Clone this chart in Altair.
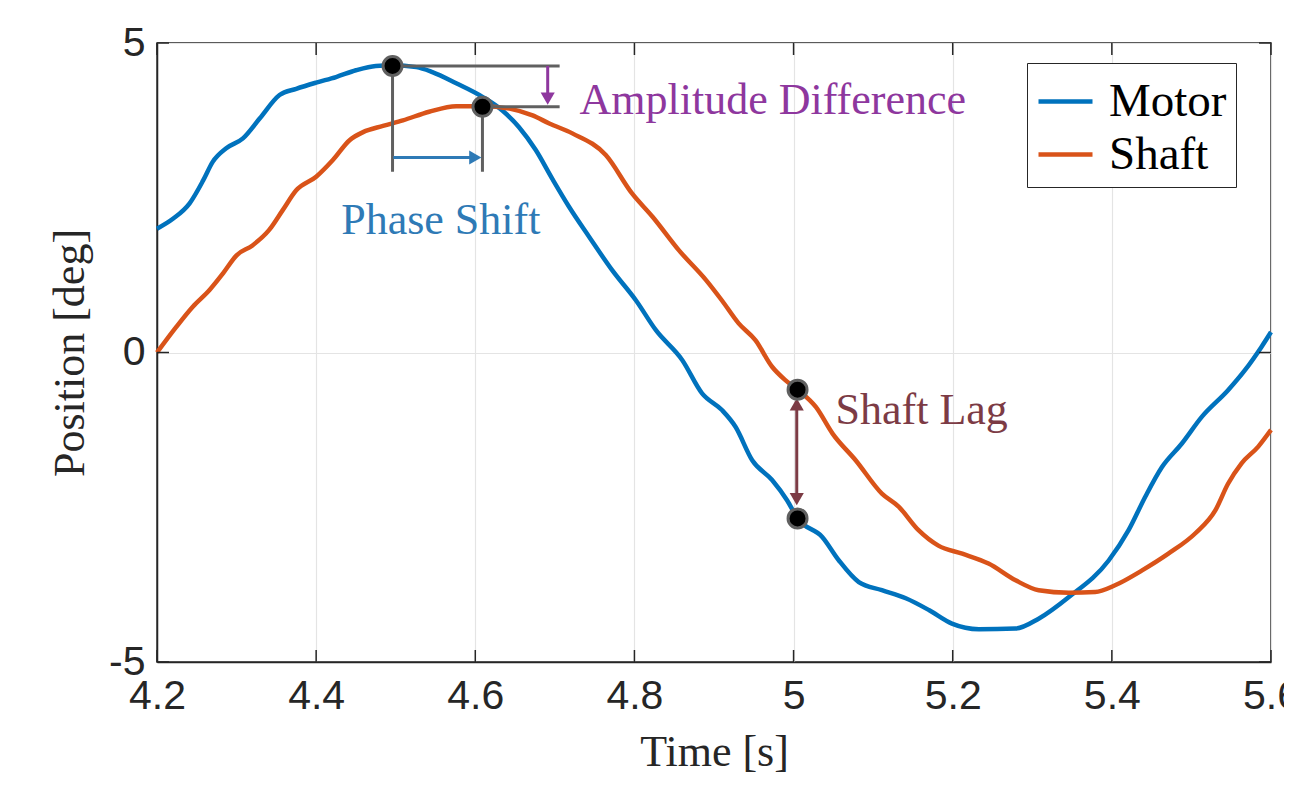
import altair as alt
import pandas as pd

# ---- series ----
motor_t = [4.200, 4.220, 4.241, 4.258, 4.270, 4.287, 4.308, 4.329, 4.354, 4.375,
           4.400, 4.425, 4.450, 4.475, 4.496, 4.526, 4.546, 4.576, 4.609, 4.634,
           4.655, 4.676, 4.697, 4.718, 4.743, 4.772, 4.802, 4.827, 4.860, 4.885,
           4.910, 4.927, 4.948, 4.973, 4.992, 5.005, 5.036, 5.057, 5.082, 5.111,
           5.141, 5.170, 5.199, 5.233, 5.279, 5.308, 5.346, 5.396, 5.421, 5.442,
           5.463, 5.488, 5.513, 5.546, 5.567, 5.588, 5.600]
motor_v = [2.00, 2.16, 2.41, 2.78, 3.08, 3.30, 3.46, 3.78, 4.16, 4.26,
           4.36, 4.45, 4.56, 4.63, 4.64, 4.61, 4.53, 4.35, 4.13, 3.91,
           3.64, 3.27, 2.80, 2.35, 1.87, 1.33, 0.84, 0.36, -0.12, -0.66,
           -0.93, -1.20, -1.74, -2.06, -2.39, -2.68, -2.98, -3.36, -3.71, -3.84,
           -3.97, -4.16, -4.38, -4.47, -4.46, -4.30, -3.95, -3.36, -2.87, -2.33,
           -1.85, -1.47, -1.04, -0.61, -0.29, 0.09, 0.33]

shaft_t = [4.200, 4.224, 4.245, 4.266, 4.283, 4.300, 4.320, 4.341, 4.358, 4.375,
           4.400, 4.421, 4.442, 4.459, 4.484, 4.509, 4.542, 4.576, 4.609, 4.643,
           4.672, 4.693, 4.722, 4.764, 4.797, 4.823, 4.856, 4.890, 4.910, 4.931,
           4.952, 4.973, 4.990, 5.005, 5.028, 5.049, 5.078, 5.111, 5.132, 5.157,
           5.182, 5.212, 5.245, 5.279, 5.308, 5.346, 5.379, 5.404, 5.438, 5.471,
           5.505, 5.530, 5.546, 5.563, 5.584, 5.600]
shaft_v = [0.00, 0.41, 0.74, 1.01, 1.28, 1.57, 1.73, 1.98, 2.30, 2.62,
           2.84, 3.11, 3.43, 3.56, 3.66, 3.75, 3.89, 3.98, 3.98, 3.94,
           3.83, 3.70, 3.54, 3.19, 2.57, 2.19, 1.65, 1.17, 0.84, 0.47,
           0.20, -0.23, -0.45, -0.60, -0.88, -1.31, -1.74, -2.28, -2.49, -2.87,
           -3.12, -3.25, -3.41, -3.68, -3.84, -3.88, -3.87, -3.76, -3.52, -3.25,
           -2.92, -2.55, -2.12, -1.79, -1.52, -1.25]

series_names = ["Motor", "Shaft"]
series_colors = ["#0072BD", "#D95319"]

x_ticks = [4.2, 4.4, 4.6, 4.8, 5.0, 5.2, 5.4, 5.6]
y_ticks = [-5, 0, 5]

# ---- annotations ----
marker_t = [4.496, 4.609, 5.005, 5.005]
marker_v = [4.63, 3.97, -0.60, -2.68]

guide_t = [4.496, 4.609, 4.496, 4.609]
guide_t2 = [4.706, 4.706, 4.496, 4.609]
guide_v = [4.63, 3.97, 4.63, 3.97]
guide_v2 = [4.63, 3.97, 2.92, 2.92]

arrow_t = [4.497, 4.691, 5.004]
arrow_t2 = [4.596, 4.691, 5.004]
arrow_v = [3.15, 4.63, -0.84]
arrow_v2 = [3.15, 4.14, -2.37]
arrow_colors = ["#2E7AB6", "#8E379E", "#7C3B45"]

head_t = [4.600, 4.691, 5.004, 5.004]
head_v = [3.15, 4.10, -0.84, -2.37]
head_shapes = ["triangle-right", "triangle-down", "triangle-up", "triangle-down"]
head_colors = ["#2E7AB6", "#8E379E", "#7C3B45", "#7C3B45"]

label_text = ["Amplitude Difference", "Phase Shift", "Shaft Lag"]
label_t = [4.731, 4.4315, 5.0528]
label_v = [3.85, 1.92, -1.15]
label_colors = ["#8E379E", "#2E7AB6", "#7C3B45"]

W, H = 1114, 619
AXC = "#262626"

df_lines = pd.DataFrame({
    "t": motor_t + shaft_t,
    "v": motor_v + shaft_v,
    "series": [series_names[0]] * len(motor_t) + [series_names[1]] * len(shaft_t),
})
df_xt = pd.DataFrame({"t": x_ticks})
df_yt = pd.DataFrame({"v": y_ticks})
df_mark = pd.DataFrame({"t": marker_t, "v": marker_v})
df_guide = pd.DataFrame({"t": guide_t, "t2": guide_t2, "v": guide_v, "v2": guide_v2})
df_arrow = pd.DataFrame({"t": arrow_t, "t2": arrow_t2, "v": arrow_v, "v2": arrow_v2, "c": arrow_colors})
df_head = pd.DataFrame({"t": head_t, "v": head_v, "s": head_shapes, "c": head_colors})
df_label = pd.DataFrame({"t": label_t, "v": label_v, "txt": label_text, "c": label_colors})

x_axis = alt.Axis(values=x_ticks, labelExpr="'' + datum.value", title="Time [s]", grid=True,
                  labelFlush=False, labelOverlap=False, labelBound=False,
                  labelPadding=14, titlePadding=14)
y_axis = alt.Axis(values=y_ticks, labelExpr="'' + datum.value", title="Position [deg]",
                  grid=True, labelPadding=12, titlePadding=16)
xs = alt.Scale(domain=[4.2, 5.6], nice=False, zero=False)
ys = alt.Scale(domain=[-5, 5], nice=False, zero=False)

X = alt.X("t:Q", scale=xs, axis=x_axis)
Y = alt.Y("v:Q", scale=ys, axis=y_axis)

lines = alt.Chart(df_lines).mark_line(strokeWidth=4.5, interpolate="monotone").encode(
    x=X, y=Y,
    color=alt.Color("series:N",
                    scale=alt.Scale(domain=series_names, range=series_colors),
                    legend=alt.Legend(orient="none", legendX=870, legendY=20, title=None,
                                      direction="vertical",
                                      labelFont="Liberation Serif", labelFontSize=47,
                                      labelColor="black", symbolType="stroke",
                                      symbolSize=2916, symbolStrokeWidth=4.5,
                                      strokeColor=AXC, fillColor="white",
                                      padding=9, labelOffset=14, rowPadding=0)),
    order=alt.Order("series:N"),
)

tick_b = alt.Chart(df_xt).mark_rule(color=AXC, strokeWidth=1.5).encode(
    x=X, y=alt.value(H), y2=alt.value(H - 12))
tick_t = alt.Chart(df_xt).mark_rule(color=AXC, strokeWidth=1.5).encode(
    x=X, y=alt.value(0), y2=alt.value(12))
tick_l = alt.Chart(df_yt).mark_rule(color=AXC, strokeWidth=1.5).encode(
    y=Y, x=alt.value(0), x2=alt.value(12))
tick_r = alt.Chart(df_yt).mark_rule(color=AXC, strokeWidth=1.5).encode(
    y=Y, x=alt.value(W), x2=alt.value(W - 12))

guides = alt.Chart(df_guide).mark_rule(color="#606060", strokeWidth=3).encode(
    x=X, x2="t2:Q", y=Y, y2="v2:Q")

arrows = alt.Chart(df_arrow).mark_rule(strokeWidth=3).encode(
    x=X, x2="t2:Q", y=Y, y2="v2:Q", color=alt.Color("c:N", scale=None))

heads = alt.Chart(df_head).mark_point(filled=True, size=200, opacity=1).encode(
    x=X, y=Y, shape=alt.Shape("s:N", scale=None), color=alt.Color("c:N", scale=None))

markers = alt.Chart(df_mark).mark_point(filled=True, size=360, fill="black",
                                        stroke="#606060", strokeWidth=3,
                                        opacity=1, shape="circle").encode(x=X, y=Y)

labels = alt.Chart(df_label).mark_text(align="left", baseline="alphabetic",
                                       font="Liberation Serif", fontSize=44).encode(
    x=X, y=Y, text="txt:N", color=alt.Color("c:N", scale=None))

chart = alt.layer(lines, tick_b, tick_t, tick_l, tick_r, guides, arrows, heads,
                  markers, labels).properties(
    width=W, height=H,
    background="white",
    padding={"left": 149, "top": 35, "right": 13, "bottom": 122},
    autosize=alt.AutoSizeParams(type="none"),
).configure_view(stroke=AXC, strokeWidth=1.5).configure_axis(
    domainColor=AXC, domainWidth=1.5, gridColor="#e4e4e4", gridWidth=1.2,
    ticks=False, labelFont="Liberation Sans", labelFontSize=41, labelColor=AXC,
    titleFont="Liberation Serif", titleFontSize=44, titleFontWeight="normal",
    titleColor=AXC,
)

chart.save("out.html", embed_options={"renderer": "svg", "actions": False})
